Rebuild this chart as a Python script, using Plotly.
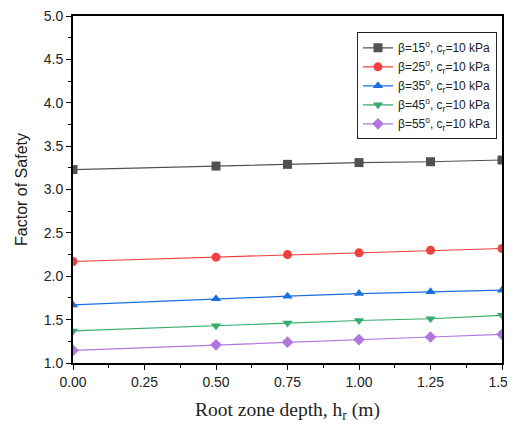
import plotly.graph_objects as go

x_depth = [0.0, 0.5, 0.75, 1.0, 1.25, 1.5]
fs_b15 = [3.23, 3.27, 3.29, 3.31, 3.32, 3.34]
fs_b25 = [2.17, 2.22, 2.25, 2.27, 2.30, 2.32]
fs_b35 = [1.67, 1.74, 1.77, 1.80, 1.82, 1.84]
fs_b45 = [1.37, 1.43, 1.46, 1.49, 1.51, 1.55]
fs_b55 = [1.145, 1.21, 1.24, 1.27, 1.30, 1.33]
names = ["β=15<sup>o</sup>, c<sub>r</sub>=10 kPa", "β=25<sup>o</sup>, c<sub>r</sub>=10 kPa",
         "β=35<sup>o</sup>, c<sub>r</sub>=10 kPa", "β=45<sup>o</sup>, c<sub>r</sub>=10 kPa",
         "β=55<sup>o</sup>, c<sub>r</sub>=10 kPa"]
series = [fs_b15, fs_b25, fs_b35, fs_b45, fs_b55]
colors = ["#515151", "#F14040", "#1A6FDF", "#37AD6B", "#B177DE"]
symbols = ["square", "circle", "triangle-up", "triangle-down", "diamond"]
x_title = "Root zone depth, h<sub>r</sub> (m)"
y_title = "Factor of Safety"

fig = go.Figure()
for n, s, c, m in zip(names, series, colors, symbols):
    fig.add_trace(go.Scatter(x=x_depth, y=s, mode="lines+markers", name=n,
                             line=dict(color=c, width=1.2),
                             marker=dict(symbol=m, size=9, color=c)))

# page body has an 8px margin, so the figure is sized/offset to compensate
fig.update_layout(
    width=507, height=417,
    margin=dict(l=65, r=13, t=7.5, b=61.7, autoexpand=False),
    plot_bgcolor="white", paper_bgcolor="white",
    font=dict(family="Arial, Liberation Sans, sans-serif", size=14, color="#222"),
    showlegend=True,
    legend=dict(x=0.662, y=0.953, xanchor="left", yanchor="top",
                bgcolor="white", bordercolor="#222", borderwidth=1,
                font=dict(size=12, color="#222"), tracegroupgap=0,
                itemwidth=30),
    annotations=[dict(text=x_title, xref="paper", yref="paper", x=0.5, y=0,
                      xanchor="center", yanchor="middle", yshift=-48, showarrow=False,
                      font=dict(family="Liberation Serif, serif", size=19.5, color="#222"))],
)
fig.update_xaxes(range=[0, 1.5], dtick=0.25, tickformat=".2f", automargin=False,
                 ticklabeloverflow="allow",
                 showline=True, linecolor="black", linewidth=2, mirror=True,
                 ticks="outside", ticklen=5, tickwidth=1, tickcolor="black",
                 showgrid=False, zeroline=False,
                 minor=dict(dtick=0.125, ticks="outside", ticklen=3, tickcolor="black"))
fig.update_yaxes(range=[1.0, 5.0], dtick=0.5, tickformat=".1f", automargin=False,
                 ticklabeloverflow="allow",
                 showline=True, linecolor="black", linewidth=2, mirror=True,
                 ticks="outside", ticklen=5, tickwidth=1, tickcolor="black",
                 showgrid=False, zeroline=False,
                 minor=dict(dtick=0.25, ticks="outside", ticklen=3, tickcolor="black"),
                 title=dict(text=y_title,
                            font=dict(family="Arial, Liberation Sans, sans-serif", size=16, color="#222"),
                            standoff=12))

fig.write_html("out.html")
